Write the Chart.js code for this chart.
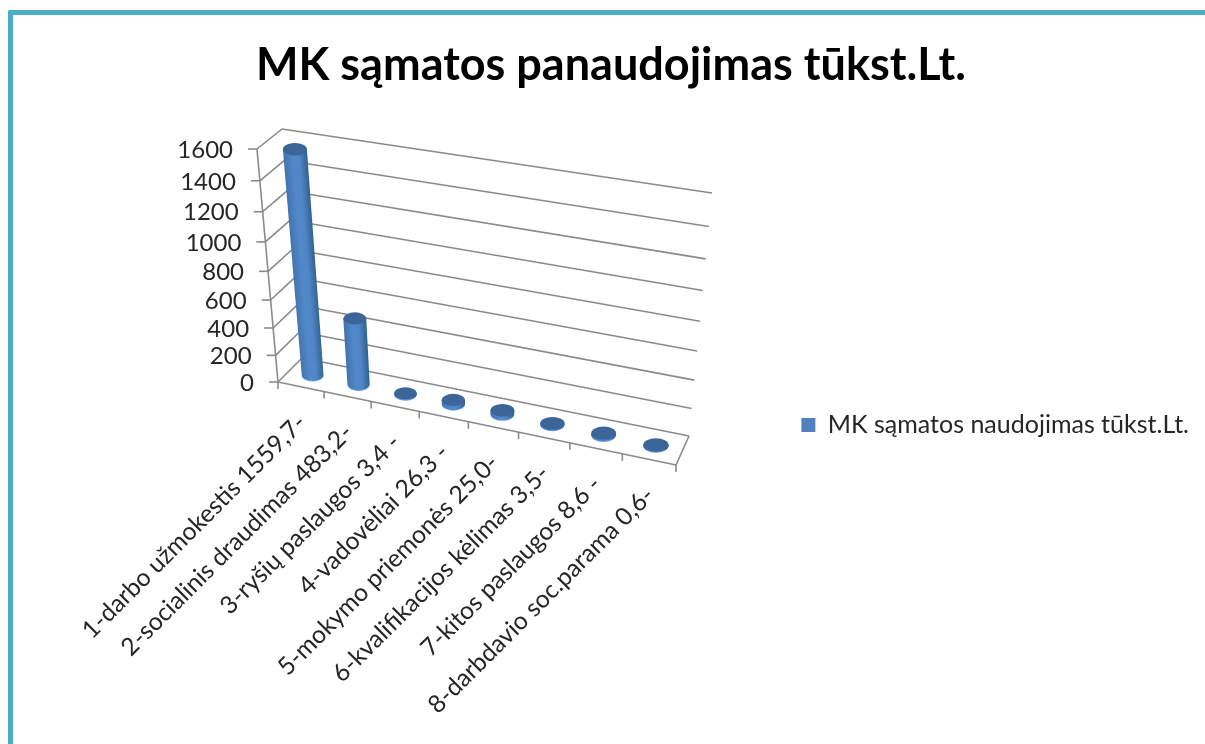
<!DOCTYPE html>
<html>
<head>
<meta charset="utf-8">
<title>MK sąmatos panaudojimas</title>
<script src="https://cdn.jsdelivr.net/npm/chart.js@4"></script>
<style>
  html, body { margin: 0; background: #fff; overflow: hidden; }
  #frame { position: absolute; left: 8px; top: 10px; width: 1197px; height: 734px; box-sizing: border-box;
           border-left: 5px solid #4bacc6; border-top: 5px solid #4bacc6; border-top-left-radius: 2px; }
  #chart { position: absolute; left: 0; top: 0; }
</style>
</head>
<body>
<div id="frame"></div>
<canvas id="chart" width="1205" height="744"></canvas>
<script>
const chartTitle = 'MK sąmatos panaudojimas tūkst.Lt.';
const seriesName = 'MK sąmatos naudojimas tūkst.Lt.';
const categories = [
    '1-darbo užmokestis 1559,7-',
    '2-socialinis draudimas 483,2-',
    '3-ryšių paslaugos 3,4 -',
    '4-vadovėliai 26,3 -',
    '5-mokymo priemonės 25,0-',
    '6-kvalifikacijos kėlimas 3,5-',
    '7-kitos paslaugos 8,6 -',
    '8-darbdavio soc.parama 0,6-'
];
const values = [1559.7, 483.2, 3.4, 26.3, 25.0, 3.5, 8.6, 0.6];

// corners of the front and back planes of the 3D box, [bottom left, bottom right, top right, top left]
const frontPlane = [[278, 382], [676, 465], [699, 218], [257, 149]];
const backPlane = [[302, 358], [689, 436], [712, 193], [282, 129]];
const barDepth = 0.5;

const font = 'Lato, sans-serif';
const gridColor = '#8a8a8a';

function homography(q) {
    const [[x0, y0], [x1, y1], [x2, y2], [x3, y3]] = q;
    const dx1 = x1 - x2, dx2 = x3 - x2, sx = x0 - x1 + x2 - x3;
    const dy1 = y1 - y2, dy2 = y3 - y2, sy = y0 - y1 + y2 - y3;
    const det = dx1 * dy2 - dx2 * dy1;
    const g = (sx * dy2 - dx2 * sy) / det;
    const h = (dx1 * sy - sx * dy1) / det;
    const a = x1 - x0 + g * x1, b = x3 - x0 + h * x3;
    const d = y1 - y0 + g * y1, e = y3 - y0 + h * y3;
    return (u, v) => {
        const w = g * u + h * v + 1;
        return [(a * u + b * v + x0) / w, (d * u + e * v + y0) / w];
    };
}
const front = homography(frontPlane);
const back = homography(backPlane);
// depth 0 = front plane, 1 = back plane
function project(u, v, depth) {
    const p = front(u, v), q = back(u, v);
    return [p[0] + (q[0] - p[0]) * depth, p[1] + (q[1] - p[1]) * depth];
}

function line(ctx, a, b) {
    ctx.beginPath();
    ctx.moveTo(a[0], a[1]);
    ctx.lineTo(b[0], b[1]);
    ctx.stroke();
}

function drawBox(chart) {
    const ctx = chart.ctx, x = chart.scales.x, y = chart.scales.y;
    ctx.save();
    ctx.strokeStyle = gridColor;
    ctx.lineWidth = 1.6;

    // value gridlines, left wall diagonals, axis ticks and labels
    ctx.fillStyle = '#262626';
    ctx.font = '24px ' + font;
    ctx.textAlign = 'right';
    ctx.textBaseline = 'middle';
    y.ticks.forEach(t => {
        const v = (y.bottom - y.getPixelForValue(t.value)) / y.height;
        const f = project(0, v, 0);
        line(ctx, f, project(0, v, 1));
        line(ctx, project(0, v, 1), project(1, v, 1));
        line(ctx, f, [f[0] - 9, f[1]]);
        ctx.fillText(t.label, f[0] - 24, f[1] + 1);
    });
    line(ctx, project(0, 0, 0), project(0, 1, 0));

    // floor
    line(ctx, project(0, 0, 0), project(1, 0, 0));
    line(ctx, project(1, 0, 0), project(1, 0, 1));

    // category ticks on the front edge of the floor
    const n = categories.length;
    for (let i = 0; i <= n; i++) {
        const p = project(i / n, 0, 0);
        line(ctx, p, [p[0], p[1] + 7]);
    }

    // rotated category labels
    ctx.font = '24.6px ' + font;
    ctx.textAlign = 'right';
    ctx.textBaseline = 'middle';
    categories.forEach((label, i) => {
        const u = (x.getPixelForValue(i) - x.left) / x.width;
        const p = project(u, 0, 0);
        ctx.save();
        ctx.translate(p[0] + 1, p[1] + 32);
        ctx.rotate(-Math.PI / 4);
        ctx.fillText(label, 0, 0);
        ctx.restore();
    });
    ctx.restore();
}

function ellipse(ctx, c, rx, ry, color) {
    ctx.fillStyle = color;
    ctx.beginPath();
    ctx.ellipse(c[0], c[1], rx, ry, 0, 0, Math.PI * 2);
    ctx.fill();
}

function drawBars(chart) {
    const ctx = chart.ctx, x = chart.scales.x, y = chart.scales.y;
    const meta = chart.getDatasetMeta(0);
    ctx.save();
    meta.data.forEach(bar => {
        const u = (bar.x - x.left) / x.width;
        const hw = bar.width / 2 / x.width;
        const vTop = (y.bottom - bar.y) / y.height;
        const base = project(u, 0, barDepth);
        const top = project(u, vTop, barDepth);
        const rxBase = (project(u + hw, 0, barDepth)[0] - project(u - hw, 0, barDepth)[0]) / 2;
        const rxTop = (project(u + hw, vTop, barDepth)[0] - project(u - hw, vTop, barDepth)[0]) / 2;
        const ryBase = rxBase * 0.53, ryTop = rxTop * 0.53;

        ellipse(ctx, [base[0], base[1] + 1], rxBase, ryBase, '#6399dc');

        const dx = top[0] - base[0], dy = top[1] - base[1];
        const len = Math.hypot(dx, dy) || 1;
        const nx = -dy / len, ny = dx / len;
        const sgn = nx < 0 ? -1 : 1;
        const mid = [(top[0] + base[0]) / 2, (top[1] + base[1]) / 2];
        const g = ctx.createLinearGradient(
            mid[0] - sgn * nx * rxTop, mid[1] - sgn * ny * rxTop,
            mid[0] + sgn * nx * rxTop, mid[1] + sgn * ny * rxTop);
        g.addColorStop(0, '#4272ad');
        g.addColorStop(0.4, '#5289cb');
        g.addColorStop(0.65, '#4f86c6');
        g.addColorStop(1, '#31608f');
        ctx.fillStyle = g;
        ctx.beginPath();
        ctx.moveTo(top[0] - rxTop, top[1]);
        ctx.lineTo(base[0] - rxBase, base[1]);
        ctx.ellipse(base[0], base[1], rxBase, ryBase, 0, Math.PI, 0, true);
        ctx.lineTo(top[0] + rxTop, top[1]);
        ctx.closePath();
        ctx.fill();

        ellipse(ctx, top, rxTop, ryTop, '#3d6698');
    });
    ctx.restore();
}

const box3d = {
    id: 'box3d',
    afterLayout(chart) {
        // legend sits a bit below the middle of the page
        chart.legend.top += 43;
        chart.legend.bottom += 43;
    },
    beforeDatasetsDraw(chart) {
        drawBox(chart);
        drawBars(chart);
        return false; // the flat bars are replaced by the cylinders
    }
};

new Chart(document.getElementById('chart').getContext('2d'), {
    type: 'bar',
    data: {
        labels: categories,
        datasets: [{
            label: seriesName,
            data: values,
            backgroundColor: '#4f81bd',
            categoryPercentage: 1,
            barPercentage: 0.48
        }]
    },
    options: {
        responsive: false,
        animation: false,
        layout: { padding: { left: 23, right: 6, top: 20 } },
        scales: {
            x: { display: false },
            y: {
                display: false,
                min: 0,
                max: 1600,
                ticks: { stepSize: 200, callback: v => String(v) }
            }
        },
        plugins: {
            title: {
                display: true,
                text: chartTitle,
                color: '#000',
                font: { family: font, size: 45, weight: 'bold' },
                padding: { top: 18, bottom: 28 }
            },
            legend: {
                position: 'right',
                labels: {
                    color: '#262626',
                    font: { family: font, size: 25 },
                    boxWidth: 14,
                    boxHeight: 14
                }
            },
            tooltip: { enabled: false }
        }
    },
    plugins: [box3d]
});
</script>
</body>
</html>
